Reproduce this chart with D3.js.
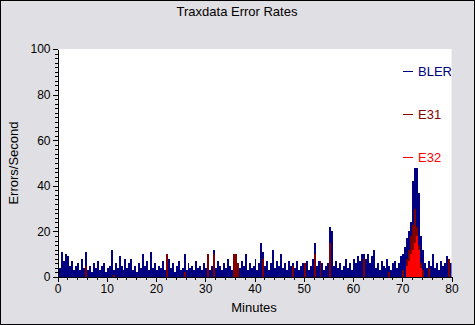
<!DOCTYPE html>
<html>
<head>
<meta charset="utf-8">
<script src="https://cdn.jsdelivr.net/npm/d3@7"></script>
<style>
  body { margin: 0; background: #e0dfe3; }
  text { font-family: "Liberation Sans", Arial, sans-serif; }
</style>
</head>
<body>
<div id="chart"></div>
<script>
// samples every 0.4 minutes, 0..80
const step = 0.4;
const blerValues = [
  38, 4, 11, 7, 10, 9, 5, 7, 3, 5, 6, 3, 8, 4, 11, 3, 5, 2, 6, 4,
  7, 3, 5, 6, 2, 4, 5, 12, 3, 6, 4, 9, 5, 3, 8, 4, 6, 8, 3, 5,
  2, 6, 4, 10, 5, 7, 3, 11, 4, 6, 3, 5, 4, 7, 3, 5, 8, 4, 6, 2,
  5, 7, 3, 4, 10, 3, 6, 4, 5, 3, 7, 4, 5, 3, 6, 4, 6, 3, 5, 12,
  4, 7, 5, 3, 6, 4, 8, 5, 3, 10, 10, 6, 4, 7, 5, 10, 3, 6, 4, 5,
  8, 3, 6, 15, 11, 5, 7, 3, 6, 12, 4, 7, 5, 10, 4, 6, 3, 7, 5, 6,
  4, 7, 3, 5, 6, 4, 7, 3, 5, 8, 15, 5, 7, 4, 6, 3, 5, 6, 22, 20,
  5, 7, 4, 6, 3, 5, 8, 4, 6, 3, 8, 6, 9, 7, 10, 10, 8, 10, 6, 9,
  12, 4, 6, 3, 7, 5, 4, 8, 5, 3, 6, 7, 4, 6, 9, 10, 13, 17, 20, 24,
  42, 48, 48, 37, 18, 12, 6, 4, 7, 5, 10, 4, 6, 3, 7, 5, 6, 9, 4, 6
];
// E31 / E32 are zero except at these [minute, value] points
const e31Points = [
  [0, 18], [5.6, 5], [11.2, 1], [22, 10], [25.6, 2], [30.4, 10], [31.6, 10],
  [35.6, 10], [36, 10], [36.4, 6], [41.6, 8], [47.6, 5], [50, 6], [52, 10],
  [53.2, 7], [55.2, 15], [62, 8], [67.2, 2], [70, 3], [70.8, 8], [71.2, 12],
  [71.6, 18], [72, 23], [72.4, 30], [72.8, 22], [73.2, 14], [73.6, 6],
  [74, 3], [75.2, 4], [79.2, 8]
];
const e32Points = [
  [70.8, 5], [71.2, 7], [71.6, 10], [72, 12], [72.4, 15], [72.8, 18], [73.2, 12], [73.6, 4]
];
const seriesNames = ['BLER', 'E31', 'E32'];
const seriesColors = ['#000080', '#800000', '#ff0000'];
const xTicks = [0, 10, 20, 30, 40, 50, 60, 70, 80];
const yTicks = [0, 20, 40, 60, 80, 100];

const width = 475;
const height = 325;
const margin = { left: 57.5, right: 23.5, top: 49, bottom: 48 };

const svg = d3.select('#chart')
  .append('svg')
  .attr('width', width)
  .attr('height', height);

// background + frame
svg.append('rect')
  .attr('x', 0.5).attr('y', 0.5)
  .attr('width', width - 1).attr('height', height - 1)
  .attr('fill', '#e0dfe3')
  .attr('stroke', '#000');

const x = d3.scaleLinear().domain([0, 80]).range([margin.left, width - margin.right]);
const y = d3.scaleLinear().domain([0, 100]).range([height - margin.bottom, margin.top]);

svg.append('defs').append('clipPath').attr('id', 'plotclip')
  .append('rect')
  .attr('x', x(0)).attr('y', y(100))
  .attr('width', x(80) - x(0)).attr('height', y(0) - y(100));

svg.append('rect')
  .attr('x', x(0)).attr('y', y(100))
  .attr('width', x(80) - x(0)).attr('height', y(0) - y(100))
  .attr('fill', '#fff');

const plot = svg.append('g').attr('clip-path', 'url(#plotclip)');

function drawBars(points, color) {
  plot.append('g')
    .selectAll('rect')
    .data(points.filter(d => d[1] > 0))
    .enter()
    .append('rect')
    .attr('x', d => x(d[0]))
    .attr('width', d => x(d[0] + step) - x(d[0]))
    .attr('y', d => y(d[1]))
    .attr('height', d => y(0) - y(d[1]))
    .attr('fill', color)
    .attr('shape-rendering', 'crispEdges');
}

drawBars(blerValues.map((v, i) => [i * step, v]), seriesColors[0]);
drawBars(e31Points, seriesColors[1]);
drawBars(e32Points, seriesColors[2]);

// legend, inside the plot at the right (clipped like the original)
const legend = plot.append('g');
seriesNames.forEach((name, i) => {
  const ly = 71 + i * 43;
  legend.append('line')
    .attr('x1', 403).attr('x2', 413)
    .attr('y1', ly + 0.5).attr('y2', ly + 0.5)
    .attr('stroke', seriesColors[i]);
  legend.append('text')
    .attr('x', 418).attr('y', ly + 5)
    .attr('fill', seriesColors[i])
    .style('font-size', '13px')
    .text(name);
});

// axes
const minorX = d3.range(0, 81, 2).filter(v => v % 10 !== 0);
const minorY = d3.range(0, 101, 2).filter(v => v % 20 !== 0);

const xAxis = svg.append('g')
  .attr('transform', `translate(0,${y(0)})`)
  .call(d3.axisBottom(x).tickValues(xTicks).tickSize(5).tickPadding(2).tickSizeOuter(0));
svg.append('g')
  .attr('transform', `translate(0,${y(0)})`)
  .call(d3.axisBottom(x).tickValues(minorX).tickSize(3).tickFormat('').tickSizeOuter(0))
  .select('.domain').remove();

const yAxis = svg.append('g')
  .attr('transform', `translate(${x(0)},0)`)
  .call(d3.axisLeft(y).tickValues(yTicks).tickSize(5).tickPadding(2).tickSizeOuter(0));
svg.append('g')
  .attr('transform', `translate(${x(0)},0)`)
  .call(d3.axisLeft(y).tickValues(minorY).tickSize(3).tickFormat('').tickSizeOuter(0))
  .select('.domain').remove();

svg.selectAll('.tick text')
  .attr('fill', '#000')
  .style('font-size', '12px')
  .style('font-family', '"Liberation Sans", Arial, sans-serif');
svg.selectAll('.domain, .tick line').attr('stroke', '#000').attr('shape-rendering', 'crispEdges');

// titles
svg.append('text')
  .attr('x', 237).attr('y', 16)
  .attr('text-anchor', 'middle')
  .style('font-size', '13px')
  .text('Traxdata Error Rates');

svg.append('text')
  .attr('x', 254).attr('y', 312)
  .attr('text-anchor', 'middle')
  .style('font-size', '13px')
  .text('Minutes');

svg.append('text')
  .attr('transform', 'translate(18,163) rotate(-90)')
  .attr('text-anchor', 'middle')
  .style('font-size', '13px')
  .text('Errors/Second');
</script>
</body>
</html>
